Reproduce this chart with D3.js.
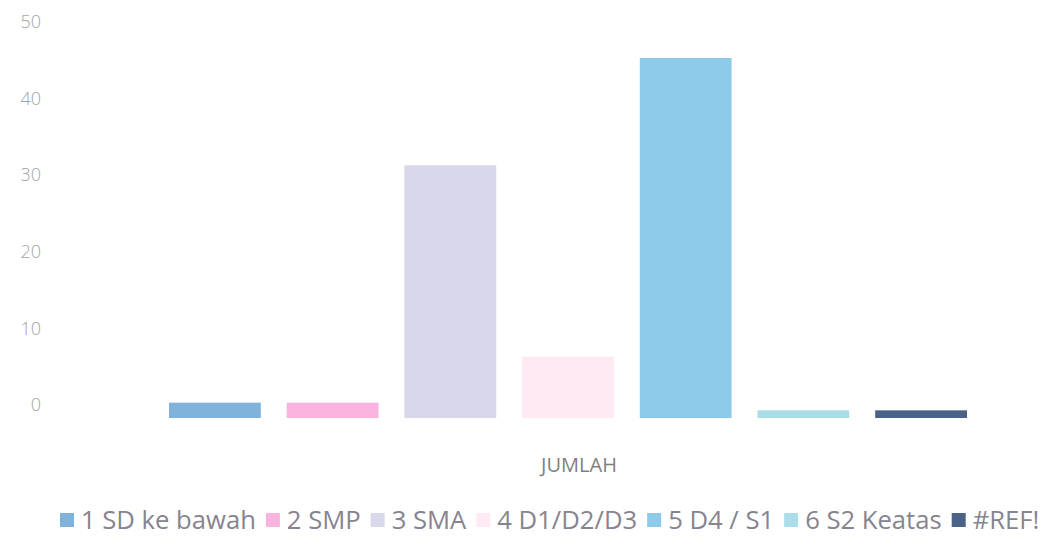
<!DOCTYPE html>
<html>
<head>
<meta charset="utf-8">
<script src="https://cdn.jsdelivr.net/npm/d3@7"></script>
<style>
  html, body { margin: 0; padding: 0; background: #ffffff; }
  svg { display: block; }
  text { font-family: "Open Sans", "Liberation Sans", sans-serif; }
</style>
</head>
<body>
<svg id="chart" width="1044" height="549"></svg>
<script>
// ---- data ----
const categories = ["JUMLAH"];
const seriesNames = ["1 SD ke bawah", "2 SMP", "3 SMA", "4 D1/D2/D3", "5 D4 / S1", "6 S2 Keatas", "#REF!"];
const seriesValues = [2, 2, 33, 8, 47, 1, 1];
const seriesColors = ["#7fb3db", "#f8b3df", "#d9d8ea", "#fdeaf3", "#8ecbea", "#a9dde7", "#4a6288"];
const yTicks = [0, 10, 20, 30, 40, 50];

// ---- layout ----
const svg = d3.select("#chart");

const y = d3.scaleLinear().domain([0, 50]).range([418, 35]);
const x0 = d3.scaleBand().domain(categories).range([169, 967]);
const x1 = d3.scaleBand().domain(seriesNames).range([0, x0.bandwidth()]).paddingInner(0.22).paddingOuter(0);

// y axis (labels only)
const yAxis = d3.axisLeft(y).tickValues(yTicks).tickSize(0).tickPadding(0).tickFormat(d3.format("d"));
const gy = svg.append("g").attr("transform", "translate(41,-13)").call(yAxis);
gy.select(".domain").remove();
gy.selectAll("text")
  .attr("fill", "#a3a3a3")
  .style("font-size", "18px")
  .style("font-weight", "300");

// bars
const gBars = svg.append("g");
categories.forEach(cat => {
  gBars.selectAll("rect.bar")
    .data(seriesNames.map((s, i) => ({ s, v: seriesValues[i], c: seriesColors[i] })))
    .enter().append("rect")
    .attr("class", "bar")
    .attr("x", d => x0(cat) + x1(d.s))
    .attr("width", x1.bandwidth())
    .attr("y", d => y(d.v))
    .attr("height", d => y(0) - y(d.v))
    .attr("fill", d => d.c);
});

// category label
svg.append("g").selectAll("text").data(categories).enter().append("text")
  .attr("x", d => x0(d) + x0.bandwidth() / 2 + 11)
  .attr("y", 472)
  .attr("text-anchor", "middle")
  .attr("fill", "#7f7f7f")
  .style("font-size", "20px")
  .text(d => d);

// legend
const legend = svg.append("g").attr("transform", "translate(60,520)");
const boxSize = 14, boxGap = 7, itemGap = 10;
const target = 980;
const probe = 20;
const texts = [];
const groups = [];
seriesNames.forEach((s, i) => {
  const g = legend.append("g");
  g.append("rect").attr("x", 0).attr("y", -boxSize / 2).attr("width", boxSize).attr("height", boxSize).attr("fill", seriesColors[i]);
  const t = g.append("text").attr("x", boxSize + boxGap).attr("y", 0).attr("dy", "0.35em")
    .attr("fill", "#86848f").style("font-size", probe + "px").text(s);
  texts.push(t);
  groups.push(g);
});
const fixed = seriesNames.length * (boxSize + boxGap) + (seriesNames.length - 1) * itemGap;
const textTotal = d3.sum(texts, t => t.node().getComputedTextLength());
const fs = probe * (target - fixed) / textTotal;
texts.forEach(t => t.style("font-size", fs + "px"));
let cx = 0;
groups.forEach((g, i) => {
  g.attr("transform", `translate(${cx},0)`);
  cx += boxSize + boxGap + texts[i].node().getComputedTextLength() + itemGap;
});
</script>
</body>
</html>
